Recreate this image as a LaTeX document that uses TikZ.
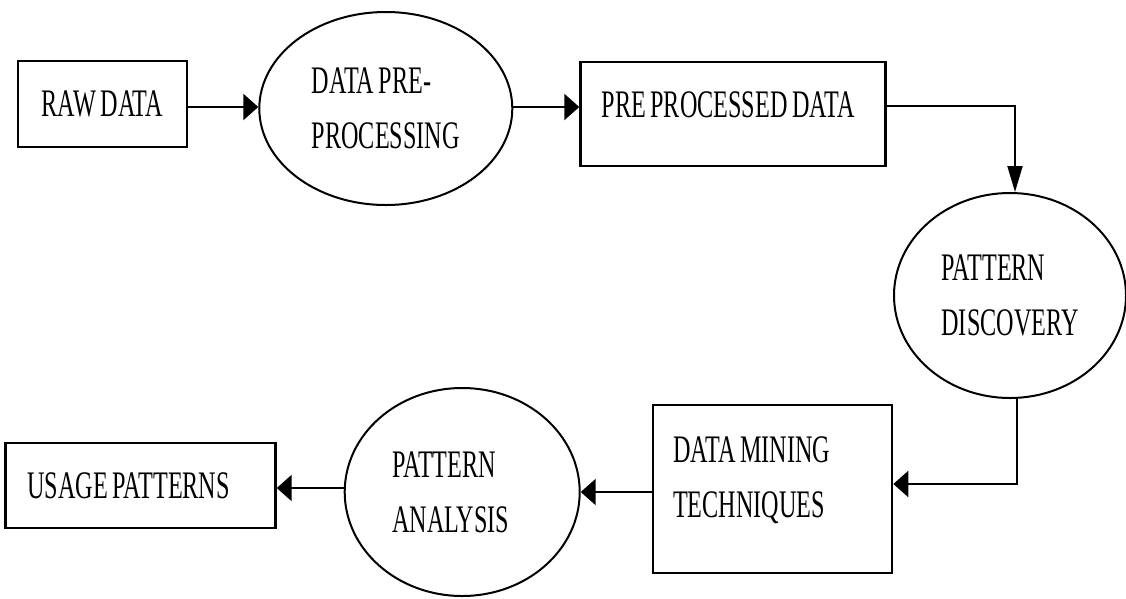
\documentclass[tikz,border=0pt]{standalone}
\usepackage{fontspec}
\setmainfont[FakeStretch=0.62, WordSpace=0.75]{Liberation Serif}
\usetikzlibrary{shapes,arrows.meta,positioning}

\begin{document}
\begin{tikzpicture}[
  x=1pt, y=-1pt,
  box/.style={rectangle, draw, line width=2.6pt, inner sep=0pt, align=flush left, font=\fontsize{39}{55}\selectfont},
  oval/.style={ellipse, draw, line width=2pt, inner sep=0pt, align=flush left, font=\fontsize{39}{55}\selectfont},
  flow/.style={line width=2.4pt, -{Triangle[length=15pt,width=26pt]}},
  down/.style={line width=2pt, -{Triangle[length=26pt,width=15pt]}}
]
  \useasboundingbox (0,0) rectangle (1126,598);

  % Top row
  \node[box, align=flush center, minimum width=169pt, minimum height=86pt] (raw) at (102.5,104) {RAW DATA};
  \node[oval, minimum width=253pt, minimum height=193pt, right=70pt of raw, yshift=-4.5pt] (prep) {DATA PRE-\\PROCESSING};
  \node[box, text width=263pt, inner xsep=21pt, text height=55pt, text depth=49pt, right=66pt of prep, yshift=-5.5pt] (ppdata) {PRE PROCESSED DATA};

  % Right side
  \node[oval, minimum width=232pt, minimum height=205pt] (disc) at (1010,295.5) {PATTERN\\DISCOVERY};

  % Bottom row
  \node[box, text width=199pt, inner xsep=20pt, text height=57pt, text depth=111pt] (mining) at (772.5,489) {DATA MINING\\TECHNIQUES};
  \node[oval, text width=140pt, minimum width=235pt, minimum height=208pt, left=71pt of mining, yshift=-3pt] (analysis) {PATTERN\\ANALYSIS};
  \node[box, text width=226pt, inner xsep=22pt, minimum height=85pt, left=67pt of analysis, yshift=6.5pt] (usage) {USAGE PATTERNS};

  % Flow
  \draw[flow] ([yshift=-3pt]raw.east) -- ([yshift=-3pt]raw.east -| prep.west);
  \draw[flow] ([yshift=1.5pt]prep.east) -- ([yshift=1.5pt]prep.east -| ppdata.west);
  \draw[down] ([yshift=8pt]ppdata.east) -| ([xshift=5pt]disc.north);
  \draw[flow] ([xshift=7pt]disc.south) |- ([yshift=5pt]mining.east);
  \draw[flow] ([yshift=-3pt]mining.west) -- ([yshift=-3pt]mining.west -| analysis.east);
  \draw[flow] ([yshift=4pt]analysis.west) -- ([yshift=4pt]analysis.west -| usage.east);

\end{tikzpicture}
\end{document}
